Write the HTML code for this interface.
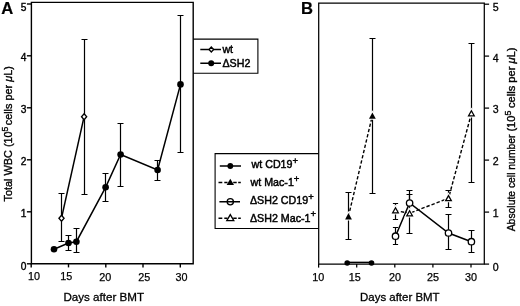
<!DOCTYPE html>
<html><head><meta charset="utf-8"><title>Figure</title>
<style>
html,body{margin:0;padding:0;background:#fff;}
svg{display:block;font-family:"Liberation Sans",sans-serif;fill:#000;}
text{stroke:#000;stroke-width:0.3;}
.ax{stroke:#000;stroke-width:1.4;fill:none;}
.ln{stroke:#000;stroke-width:1.5;fill:none;}
.eb{stroke:#000;stroke-width:1.2;fill:none;}
.ds{stroke:#000;stroke-width:1.4;fill:none;stroke-dasharray:3.4 2;}
.axb{stroke:#000;stroke-width:1.25;fill:none;}
.om{stroke:#000;stroke-width:1.3;fill:#fff;}
.fm{stroke:none;fill:#000;}
.tl{font-size:10.2px;stroke-width:0.38;}
.tr{font-size:10.6px;stroke-width:0.3;}
.tx{font-size:10.8px;stroke-width:0.25;}
.ti{font-size:11.5px;}
.ty{font-size:10.5px;stroke-width:0.35;}
.lg{font-size:10.7px;stroke-width:0.45;}
.lb{stroke:#000;stroke-width:1.1;fill:none;}
.pl{font-size:16.6px;font-weight:bold;stroke-width:0.2;}
</style></head><body>
<svg width="520" height="306" viewBox="0 0 520 306">
<rect x="0" y="0" width="520" height="306" fill="#fff" stroke="none"/>

<text class="pl" x="1.2" y="13.6">A</text>
<path class="ax" d="M31.4 2.4H193.2V263.8H31.4Z"/>
<path class="ax" d="M26.9 263.8H31.4"/>
<text class="tl" x="26.5" y="270.1" text-anchor="end">0</text>
<path class="ax" d="M26.9 211.8H31.4"/>
<text class="tl" x="26.5" y="217.1" text-anchor="end">1</text>
<path class="ax" d="M26.9 159.8H31.4"/>
<text class="tl" x="26.5" y="164.5" text-anchor="end">2</text>
<path class="ax" d="M26.9 107.8H31.4"/>
<text class="tl" x="26.5" y="112.9" text-anchor="end">3</text>
<path class="ax" d="M26.9 55.8H31.4"/>
<text class="tl" x="26.5" y="60.9" text-anchor="end">4</text>
<path class="ax" d="M26.9 4.0H31.4"/>
<text class="tl" x="26.5" y="10.7" text-anchor="end">5</text>
<path class="ax" d="M31.2 263.8V267.4"/>
<text class="tx" x="34.0" y="280.0" text-anchor="middle">10</text>
<path class="ax" d="M68.5 263.8V267.4"/>
<text class="tx" x="66.3" y="279.8" text-anchor="middle">15</text>
<path class="ax" d="M105.8 263.8V267.4"/>
<text class="tx" x="105.2" y="280.8" text-anchor="middle">20</text>
<path class="ax" d="M143.0 263.8V267.4"/>
<text class="tx" x="144.2" y="281" text-anchor="middle">25</text>
<path class="ax" d="M180.3 263.8V267.4"/>
<text class="tx" x="181.5" y="281" text-anchor="middle">30</text>
<text class="ti" x="63.4" y="300.8" textLength="80.6" lengthAdjust="spacingAndGlyphs">Days after BMT</text>
<text class="ty" transform="translate(12.2 201.4) rotate(-90)" textLength="135.2" lengthAdjust="spacingAndGlyphs">Total WBC (10<tspan dy="-3.8" font-size="8.3">5</tspan><tspan dy="3.8" dx="-1.6"> cells per </tspan><tspan font-style="italic">μ</tspan>L)</text>
<path class="eb" d="M61.5 193.5V241.5M58.5 193.5H64.5M58.5 241.5H64.5"/>
<path class="eb" d="M84.5 39.5V194.5M81.5 39.5H87.5M81.5 194.5H87.5"/>
<path class="eb" d="M68.5 235.5V250.5M65.5 235.5H71.5M65.5 250.5H71.5"/>
<path class="eb" d="M76.5 228.5V252.5M73.5 228.5H79.5M73.5 252.5H79.5"/>
<path class="eb" d="M105.5 173.5V201.5M102.5 173.5H108.5M102.5 201.5H108.5"/>
<path class="eb" d="M120.5 123.5V186.5M117.5 123.5H123.5M117.5 186.5H123.5"/>
<path class="eb" d="M157.5 160.5V180.5M154.5 160.5H160.5M154.5 180.5H160.5"/>
<path class="eb" d="M180.5 15.5V152.5M177.5 15.5H183.5M177.5 152.5H183.5"/>
<path class="ln" d="M54.0 249.3L68.5 243.0L76.4 241.7L105.6 187.3L120.6 154.5L157.6 170.0L180.5 84.4"/>
<path class="ln" d="M61.5 218.2L84.1 116.7"/>
<circle class="fm" cx="54.0" cy="249.3" r="3.3"/>
<circle class="fm" cx="68.5" cy="243.0" r="3.3"/>
<circle class="fm" cx="76.4" cy="241.7" r="3.3"/>
<circle class="fm" cx="105.6" cy="187.3" r="3.3"/>
<circle class="fm" cx="120.6" cy="154.5" r="3.3"/>
<circle class="fm" cx="157.6" cy="170.0" r="3.3"/>
<circle class="fm" cx="180.5" cy="84.4" r="3.3"/>
<path class="om" d="M61.5 215.2L64.1 218.2L61.5 221.2L58.9 218.2Z"/>
<path class="om" d="M84.1 113.7L86.7 116.7L84.1 119.7L81.5 116.7Z"/>
<path class="lb" d="M193.2 39.1H257.9V73.3H193.2"/>
<path class="ln" d="M200.3 49.5H221M200.3 63.2H221"/>
<path class="om" d="M211.3 47.0L213.6 49.5L211.3 52.0L209.0 49.5Z"/>
<circle class="fm" cx="211.2" cy="63.2" r="3.0"/>
<text class="lg" x="222.4" y="52.8">wt</text>
<text class="lg" x="222.4" y="66.9">ΔSH2</text>
<text class="pl" x="300.9" y="14.4">B</text>
<path class="axb" d="M318.7 3.1H484.3V264H318.7Z"/>
<path class="axb" d="M484.3 264.1H489.1"/>
<text class="tr" x="492.7" y="270.7">0</text>
<path class="axb" d="M484.3 212.1H489.1"/>
<text class="tr" x="492.7" y="217.4">1</text>
<path class="axb" d="M484.3 160.1H489.1"/>
<text class="tr" x="492.7" y="164.5">2</text>
<path class="axb" d="M484.3 108.1H489.1"/>
<text class="tr" x="492.7" y="113.0">3</text>
<path class="axb" d="M484.3 56.1H489.1"/>
<text class="tr" x="492.7" y="61.5">4</text>
<path class="axb" d="M484.3 4.2H489.1"/>
<text class="tr" x="492.7" y="10.8">5</text>
<path class="axb" d="M318.6 264V267.6"/>
<text class="tx" x="318.3" y="281.0" text-anchor="middle">10</text>
<path class="axb" d="M356.7 264V267.6"/>
<text class="tx" x="354.7" y="281.0" text-anchor="middle">15</text>
<path class="axb" d="M394.8 264V267.6"/>
<text class="tx" x="395.0" y="281.0" text-anchor="middle">20</text>
<path class="axb" d="M432.9 264V267.6"/>
<text class="tx" x="432.9" y="281.0" text-anchor="middle">25</text>
<path class="axb" d="M471.0 264V267.6"/>
<text class="tx" x="471.0" y="281.0" text-anchor="middle">30</text>
<text class="ti" x="360.0" y="300.6" textLength="79.6" lengthAdjust="spacingAndGlyphs">Days after BMT</text>
<text class="ty" transform="translate(514.8 231.3) rotate(-90)" textLength="96.8" lengthAdjust="spacingAndGlyphs">Absolute cell number</text>
<text class="ty" transform="translate(514.8 131.6) rotate(-90)" textLength="84" lengthAdjust="spacingAndGlyphs">(10<tspan dy="-3.8" font-size="8.3">5</tspan><tspan dy="3.8" dx="-0.4"> cells per </tspan><tspan font-style="italic">μ</tspan>L)</text>
<path class="ln" d="M347.2 262.4H371.5"/>
<path class="eb" d="M348.5 192.5V239.5M345.5 192.5H351.5M345.5 239.5H351.5"/>
<path class="eb" d="M372.5 38.5V193.5M369.5 38.5H375.5M369.5 193.5H375.5"/>
<path class="eb" d="M395.5 203.5V219.5M392.9 203.5H398.1M392.9 219.5H398.1"/>
<path class="eb" d="M395.5 227.5V244.5M392.9 227.5H398.1M392.9 244.5H398.1"/>
<path class="eb" d="M409.5 194.5V233.5M406.5 194.5H412.5M406.5 233.5H412.5"/>
<path class="eb" d="M409.5 203.0V190.5M406.5 190.5H412.5"/>
<path class="eb" d="M448.5 190.5V207.5M445.5 190.5H451.5M445.5 207.5H451.5"/>
<path class="eb" d="M448.5 214.5V249.5M445.5 214.5H451.5M445.5 249.5H451.5"/>
<path class="eb" d="M471.5 43.5V182.5M468.5 43.5H474.5M468.5 182.5H474.5"/>
<path class="eb" d="M471.5 230.5V252.5M468.5 230.5H474.5M468.5 252.5H474.5"/>
<path class="ds" d="M348.5 216.2L372.3 115.7"/>
<path class="ds" d="M395.5 210.6L409.6 213.2L448.5 198.3L471.4 113.6"/>
<path class="ln" d="M395.5 236.2L409.6 203L448.5 233L471.4 241.7"/>
<circle class="fm" cx="347.2" cy="263.0" r="2.8"/>
<circle class="fm" cx="371.5" cy="263.0" r="2.8"/>
<path d="M348.5 213.1L351.9 219.4L345.1 219.4Z" fill="#fff" stroke="#fff" stroke-width="2.0"/>
<path class="fm" d="M348.5 213.1L351.9 219.4L345.1 219.4Z"/>
<path d="M372.4 112.4L375.8 118.7L369.0 118.7Z" fill="#fff" stroke="#fff" stroke-width="2.0"/>
<path class="fm" d="M372.4 112.4L375.8 118.7L369.0 118.7Z"/>
<path d="M395.5 207.8L398.3 212.8L392.7 212.8Z" fill="#fff" stroke="#fff" stroke-width="3.2"/>
<path class="om" d="M395.5 207.8L398.3 212.8L392.7 212.8Z"/>
<path d="M409.6 210.8L412.4 215.8L406.8 215.8Z" fill="#fff" stroke="#fff" stroke-width="3.2"/>
<path class="om" d="M409.6 210.8L412.4 215.8L406.8 215.8Z"/>
<path d="M448.5 195.6L451.3 200.6L445.7 200.6Z" fill="#fff" stroke="#fff" stroke-width="3.2"/>
<path class="om" d="M448.5 195.6L451.3 200.6L445.7 200.6Z"/>
<path d="M471.4 110.8L474.2 115.8L468.6 115.8Z" fill="#fff" stroke="#fff" stroke-width="3.2"/>
<path class="om" d="M471.4 110.8L474.2 115.8L468.6 115.8Z"/>
<circle class="om" cx="395.5" cy="236.2" r="3.2"/>
<circle class="om" cx="409.6" cy="203.0" r="3.2"/>
<circle class="om" cx="448.5" cy="233.0" r="3.2"/>
<circle class="om" cx="471.4" cy="241.7" r="3.2"/>
<path class="lb" d="M318.6 153.6H215.1V228.5H318.6"/>
<path class="ln" style="stroke-width:1.4" d="M218.5 182.5H222.3M224.3 182.5H227.5M233.2 182.5H236.7M238.2 182.5H240.8"/>
<path class="ln" style="stroke-width:1.4" d="M218.5 218.2H222.3M224.3 218.2H227.5M233.2 218.2H236.7M238.2 218.2H240.8"/>
<circle class="fm" cx="230.3" cy="166.0" r="2.9"/>
<path class="fm" d="M230.3 178.7L234.0 185.0L226.6 185.0Z"/>
<circle class="om" cx="230.3" cy="201.8" r="3.1"/>
<path class="om" d="M230.3 214.6L233.8 220.6L226.8 220.6Z"/>
<path class="ln" d="M219.8 166.0H241M219.4 201.8H240"/>
<text class="lg" x="251.5" y="168.4">wt CD19<tspan dy="-4.3" font-size="9.5">+</tspan></text>
<text class="lg" x="250.5" y="185.8">wt Mac-1<tspan dy="-4.3" font-size="9.5">+</tspan></text>
<text class="lg" x="249.9" y="203.8">ΔSH2 CD19<tspan dy="-4.3" font-size="9.5">+</tspan></text>
<text class="lg" x="249.9" y="221.5">ΔSH2 Mac-1<tspan dy="-4.3" font-size="9.5">+</tspan></text>
</svg></body></html>
